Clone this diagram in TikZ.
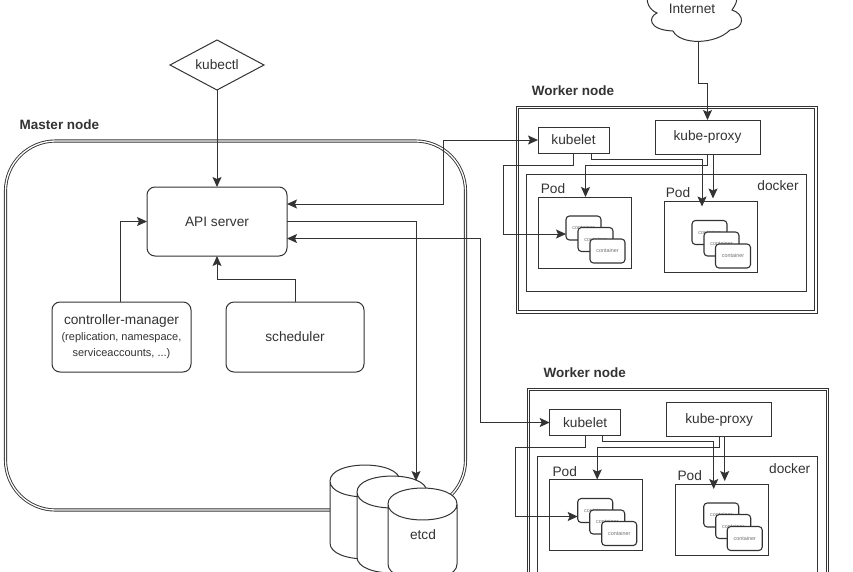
\documentclass[tikz,border=0pt]{standalone}
\usepackage{fontspec}
\setmainfont{Liberation Sans}
\usetikzlibrary{arrows.meta,shapes.geometric}
\definecolor{ink}{HTML}{333333}
\newcommand\smalltxt{\fontsize{11}{16.5}\selectfont}
\tikzset{
  every node/.style={text=ink,inner sep=0pt,outer sep=0pt},
  txt/.style={font=\fontsize{13.7}{16}\selectfont},
  boxed/.style={txt,draw=ink,line width=1pt,fill=white},
  rbox/.style={boxed,rounded corners=8pt},
  podbox/.style={draw=ink,line width=1pt,fill=white,minimum width=93,minimum height=71},
  corebox/.style={draw=ink,line width=1.1pt,fill=white,rounded corners=3.5pt,minimum width=35,minimum height=24,
    font=\fontsize{5.4}{6}\selectfont,text=ink!70},
  dbl/.style={draw=ink,double=white,double distance=1.3pt,line width=.9pt},
  frameline/.style={draw=ink,line width=1pt},
  heading/.style={font=\bfseries\fontsize{13.5}{16}\selectfont},
  conn/.style={draw=ink,line width=1pt,-{Stealth[length=10pt,width=9pt,inset=2pt]}},
  bothconn/.style={draw=ink,line width=1pt,{Stealth[length=10pt,width=9pt,inset=2pt]}-{Stealth[length=10pt,width=9pt,inset=2pt]}},
}
% #1 centre x, #2 y of top ellipse centre, #3 rx, #4 ry, #5 body height
\newcommand\etcdcyl[5]{%
  \draw[draw=ink,line width=1pt,fill=white]
    ({#1-#3},#2) -- ({#1-#3},{#2+#5})
    .. controls ({#1-#3},{#2+#5+1.33*#4}) and ({#1+#3},{#2+#5+1.33*#4}) .. ({#1+#3},{#2+#5})
    -- ({#1+#3},#2)
    .. controls ({#1+#3},{#2-1.33*#4}) and ({#1-#3},{#2-1.33*#4}) .. ({#1-#3},#2)
    .. controls ({#1-#3},{#2+1.33*#4}) and ({#1+#3},{#2+1.33*#4}) .. ({#1+#3},#2);
}
% #1 prefix, #2 dx, #3 dy
\newcommand\workerparts[3]{%
  \begin{scope}[shift={(#2,#3)}]
    \node[heading] (#1title) at (573,90.5) {Worker node};
    \node[frameline,minimum width=301,minimum height=207] (#1outer) at (666.5,209.5) {};
    \node[frameline,minimum width=296.6,minimum height=202.6] (#1inner) at (666.5,209.5) {};
    \node[boxed,minimum width=280,minimum height=117] (#1docker) at (666,232.5) {};
    \node[txt] (#1dockerlabel) at (778,186) {docker};
    \node[boxed,minimum width=71,minimum height=26] (#1kubelet) at (573.5,140) {kubelet};
    \node[boxed,minimum width=105,minimum height=34] (#1proxy) at (707.5,137) {kube-proxy};
    \node[podbox] (#1podA) at (584.5,232.5) {};
    \node[txt] (#1podAlabel) at (553,189) {Pod};
    \node[podbox] (#1podB) at (710.5,237) {};
    \node[txt] (#1podBlabel) at (678,193) {Pod};
    \node[corebox] (#1ca) at (583.5,228) {container};
    \node[corebox] (#1cb) at (595.5,239.5) {container};
    \node[corebox] (#1cc) at (607.5,251) {container};
    \node[corebox] (#1cd) at (709.5,232.5) {container};
    \node[corebox] (#1ce) at (721.5,244) {container};
    \node[corebox] (#1cf) at (733,256) {container};
    \draw[conn] (#1kubelet.south) -- ++(0,12) -- ++(-70,0) |- ([yshift=-6pt]#1ca.west);
    \draw[conn] ([xshift=17.5pt]#1kubelet.south) -- ++(0,6) -| ([xshift=-8.5pt,yshift=-5pt]#1podB.north);
    \draw[conn] (#1proxy.south) -- ++(0,11) -| ([xshift=1pt]#1podA.north);
    \draw[conn] ([xshift=5.5pt]#1proxy.south) -- ([xshift=2.5pt,yshift=3pt]#1podB.north);
  \end{scope}%
}
\begin{document}
\begin{tikzpicture}[x=1pt,y=-1pt]
  \clip (0,0) rectangle (853,571);
  \fill[white] (0,0) rectangle (853,571);

  % master
  \node[heading] (mastertitle) at (59.5,125) {Master node};
  \node[dbl,rounded corners=50pt,minimum width=460,minimum height=369] (master) at (235.5,325.5) {};
  \node[rbox,minimum width=140,minimum height=69] (api) at (217,221.5) {API server};
  \node[rbox,minimum width=139,minimum height=70,align=center] (ctrl) at (121.5,337)
    {controller-manager\\\smalltxt (replication, namespace,\\\smalltxt serviceaccounts, ...)};
  \node[rbox,minimum width=138,minimum height=70] (sched) at (295,337) {scheduler};
  \node[boxed,diamond,aspect=1.88,minimum width=94,minimum height=50] (kubectl) at (217,65) {kubectl};

  % etcd
  \etcdcyl{365}{481}{35}{16}{62}
  \etcdcyl{392}{492}{35}{16}{65}
  \etcdcyl{422.5}{504}{34.5}{16}{60}
  \node[txt] (etcd) at (423,535) {etcd};
  \coordinate (etcdtop) at (416,481);

  % internet cloud
  \draw[draw=ink,line width=1pt,fill=white]
    (648,-8) .. controls (645,3) and (650,10) .. (657,13)
    .. controls (648,17) and (648,30) .. (673,31)
    .. controls (680,45) and (715,45) .. (730,30)
    .. controls (745,28) and (745,14) .. (732,10)
    .. controls (735,5) and (738,2) .. (737,-8) -- cycle;
  \node[txt] (internet) at (692,9) {Internet};
  \coordinate (cloudbottom) at (698,41);

  \workerparts{wa}{0}{0}
  \workerparts{wb}{11.7}{282.5}

  % connectors
  \draw[conn] (cloudbottom) -- ++(0,42) -| (waproxy.north);
  \draw[conn] (kubectl.south) -- (api.north);
  \draw[conn] ([xshift=-1pt]ctrl.north) |- (api.west);
  \draw[conn] (sched.north) -- ++(0,-23) -| (api.south);
  \draw[bothconn] ([yshift=17.5pt]api.east) -- ++(156,0) |- (wakubelet.west);
  \draw[conn] (api.east) -| (etcdtop);
  \draw[bothconn] ([yshift=-17pt]api.east) -- ++(193,0) |- (wbkubelet.west);
\end{tikzpicture}
\end{document}
